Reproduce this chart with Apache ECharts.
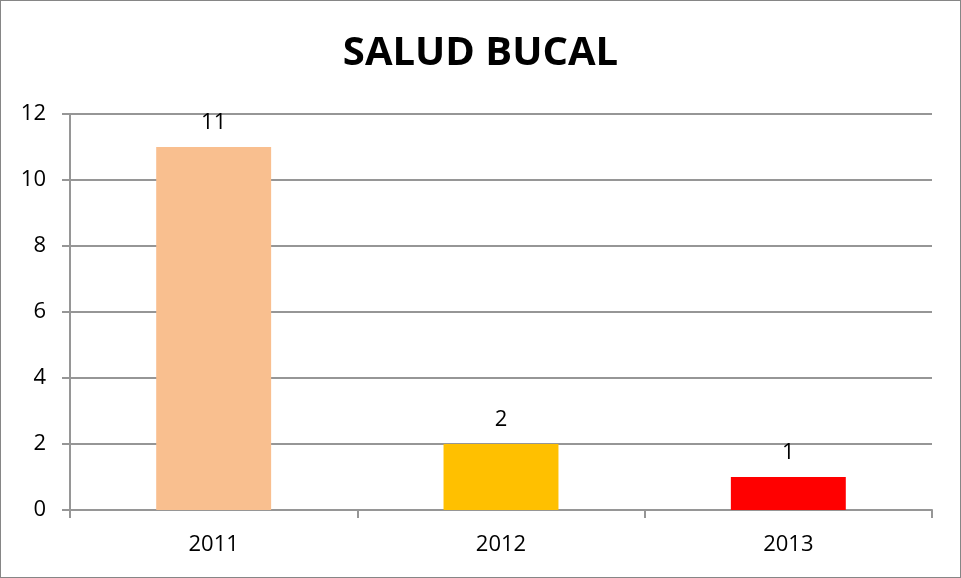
<!DOCTYPE html>
<html>
<head>
<meta charset="utf-8">
<script src="https://cdn.jsdelivr.net/npm/echarts@6/dist/echarts.min.js"></script>
<style>
  html, body { margin: 0; padding: 0; background: #fff; }
  #chart { width: 961px; height: 578px; box-sizing: border-box; border: 1px solid #868686; }
</style>
</head>
<body>
<div id="chart"></div>
<script>
const years = ["2011", "2012", "2013"];
const values = [11, 2, 1];
const barColors = ["#F9BF8F", "#FFC000", "#FF0000"];

const axisColor = "#969696";
const font = "'Open Sans', 'Noto Sans', sans-serif";

const chart = echarts.init(document.getElementById("chart"));
chart.setOption({
  animation: false,
  title: {
    text: "SALUD BUCAL",
    left: "center",
    top: 28,
    textStyle: { fontFamily: font, fontSize: 40, fontWeight: "bold", color: "#000" }
  },
  grid: { left: 69, right: 28, top: 113, bottom: 67 },
  xAxis: {
    type: "category",
    data: years,
    axisLine: { lineStyle: { color: axisColor, width: 2 } },
    axisTick: { show: true, length: 8, lineStyle: { color: axisColor, width: 2 } },
    axisLabel: { color: "#000", fontFamily: font, fontSize: 22, margin: 24 }
  },
  yAxis: {
    type: "value",
    min: 0,
    max: 12,
    interval: 2,
    axisLine: { show: true, lineStyle: { color: axisColor, width: 2 } },
    axisTick: { show: true, length: 8, lineStyle: { color: axisColor, width: 2 } },
    axisLabel: { color: "#000", fontFamily: font, fontSize: 22, margin: 24 },
    splitLine: { lineStyle: { color: axisColor, width: 2 } }
  },
  series: [{
    type: "bar",
    barWidth: "40%",
    data: values.map((v, i) => ({ value: v, itemStyle: { color: barColors[i] } })),
    label: {
      show: true,
      position: "top",
      distance: 13,
      color: "#000",
      fontFamily: font,
      fontSize: 22
    }
  }]
});
</script>
</body>
</html>
